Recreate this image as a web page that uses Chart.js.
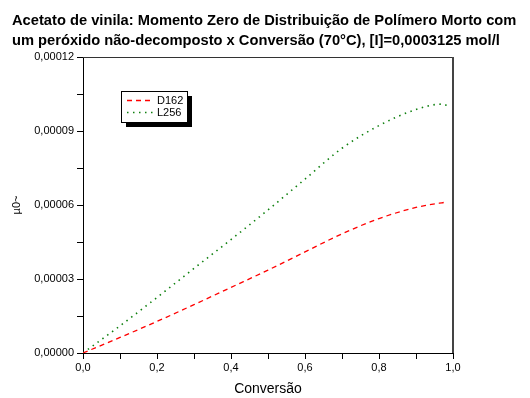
<!DOCTYPE html>
<html>
<head>
<meta charset="utf-8">
<script src="https://cdn.jsdelivr.net/npm/chart.js@4"></script>
<style>
  html, body { margin: 0; padding: 0; background: #fff; }
  #wrap { width: 530px; height: 398px; }
</style>
</head>
<body>
<div id="wrap"><canvas id="chart" width="530" height="398"></canvas></div>
<script>
// valores
const conversao = [0, 0.1, 0.2, 0.3, 0.4, 0.5, 0.6, 0.7, 0.8, 0.9, 0.97, 0.985];
const d162 = [0, 0.0000063, 0.0000128, 0.0000196, 0.0000266, 0.0000336, 0.000041, 0.0000483, 0.0000545, 0.000059, 0.0000609, 0.0000612];
const l256 = [0, 0.000011, 0.0000225, 0.0000343, 0.000046, 0.000058, 0.0000705, 0.000083, 0.0000922, 0.0000987, 0.0001009, 0.0001003];
const seriesLabels = ['D162', 'L256'];
const titleLines = [
    'Acetato de vinila: Momento Zero de Distribuição de Polímero Morto com',
    'um peróxido não-decomposto x Conversão (70°C), [I]=0,0003125 mol/l'
];
const xTitle = 'Conversão';
const yTitle = 'µ0~';

const toPoints = (ys) => conversao.map((x, i) => ({ x: x, y: ys[i] }));

const frameAndLegend = {
    id: 'frameAndLegend',
    afterDraw(chart) {
        const ctx = chart.ctx;
        const a = chart.chartArea;
        ctx.save();
        // moldura
        ctx.strokeStyle = '#333';
        ctx.lineWidth = 1;
        ctx.beginPath();
        ctx.moveTo(a.left, a.top + 0.5);
        ctx.lineTo(a.right, a.top + 0.5);
        ctx.stroke();
        ctx.lineWidth = 2;
        ctx.strokeStyle = '#444';
        ctx.beginPath();
        ctx.moveTo(a.right, a.top);
        ctx.lineTo(a.right, a.bottom);
        ctx.stroke();

        // título
        ctx.fillStyle = '#000';
        ctx.font = 'bold 14.7px "Liberation Sans", Arial, sans-serif';
        ctx.textBaseline = 'middle';
        ctx.textAlign = 'left';
        ctx.fillText(titleLines[0], 12, 21);
        ctx.fillText(titleLines[1], 12, 41);

        // legenda
        const bx = 121, by = 91, bw = 66, bh = 31;
        ctx.fillStyle = '#000';
        ctx.fillRect(bx + 5, by + 5, bw, bh);
        ctx.fillStyle = '#fff';
        ctx.fillRect(bx, by, bw, bh);
        ctx.strokeStyle = '#000';
        ctx.lineWidth = 1;
        ctx.strokeRect(bx + 0.5, by + 0.5, bw, bh);
        ctx.font = '11px "Liberation Sans", Arial, sans-serif';
        chart.data.datasets.forEach((ds, i) => {
            const yy = by + 9.5 + i * 12;
            ctx.strokeStyle = ds.borderColor;
            ctx.lineWidth = ds.borderWidth;
            ctx.setLineDash(ds.borderDash);
            ctx.beginPath();
            ctx.moveTo(bx + 6, yy);
            ctx.lineTo(bx + 33, yy);
            ctx.stroke();
            ctx.setLineDash([]);
            ctx.fillStyle = '#000';
            ctx.fillText(ds.label, bx + 36, yy + 0.5);
        });
        ctx.restore();
    }
};

const tickFont = { family: '"Liberation Sans", Arial, sans-serif', size: 11 };

new Chart(document.getElementById('chart'), {
    type: 'scatter',
    data: {
        datasets: [
            {
                label: seriesLabels[0],
                data: toPoints(d162),
                showLine: true,
                borderColor: '#ff0000',
                borderWidth: 1.3,
                borderDash: [5, 4],
                pointRadius: 0,
                cubicInterpolationMode: 'monotone'
            },
            {
                label: seriesLabels[1],
                data: toPoints(l256),
                showLine: true,
                borderColor: '#108010',
                borderWidth: 1.6,
                borderDash: [1.5, 4.5],
                pointRadius: 0,
                cubicInterpolationMode: 'monotone'
            }
        ]
    },
    options: {
        responsive: false,
        animation: false,
        devicePixelRatio: 1,
        layout: { padding: { top: 57, right: 77, bottom: 0, left: 0 } },
        plugins: {
            legend: { display: false },
            title: { display: false },
            tooltip: { enabled: false }
        },
        scales: {
            x: {
                type: 'linear',
                min: 0,
                max: 1,
                afterFit: (scale) => { scale.height = 45; },
                border: { color: '#000', width: 1 },
                grid: { drawOnChartArea: false, tickLength: 6, color: '#000' },
                ticks: {
                    stepSize: 0.1,
                    color: '#000',
                    font: tickFont,
                    padding: 2,
                    maxRotation: 0,
                    autoSkip: false,
                    callback: (value, index) => index % 2 === 0 ? value.toFixed(1).replace('.', ',') : ''
                },
                title: {
                    display: true,
                    text: xTitle,
                    color: '#000',
                    font: { family: '"Liberation Sans", Arial, sans-serif', size: 14 },
                    padding: { top: 0, bottom: 0 }
                }
            },
            y: {
                min: 0,
                max: 0.00012,
                afterFit: (scale) => { scale.width = 83; },
                border: { color: '#000', width: 1 },
                grid: { drawOnChartArea: false, tickLength: 6, color: '#000' },
                ticks: {
                    stepSize: 0.000015,
                    color: '#000',
                    font: tickFont,
                    padding: 3,
                    autoSkip: false,
                    callback: (value, index) => index % 2 === 0 ? value.toFixed(5).replace('.', ',') : ''
                },
                title: {
                    display: true,
                    text: yTitle,
                    color: '#000',
                    font: { family: '"Liberation Sans", Arial, sans-serif', size: 11 },
                    padding: { top: 10, bottom: 10 }
                }
            }
        }
    },
    plugins: [frameAndLegend]
});
</script>
</body>
</html>
